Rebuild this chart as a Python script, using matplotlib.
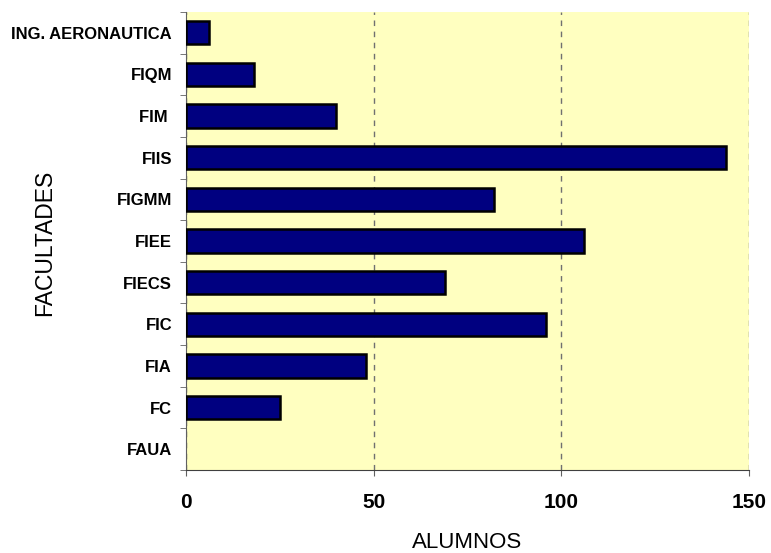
import matplotlib.pyplot as plt
import numpy as np

plt.rcParams['font.family'] = ['Liberation Sans', 'DejaVu Sans']

# Faculties, bottom to top, and number of students
facultades = ["FAUA", "FC", "FIA", "FIC", "FIECS", "FIEE", "FIGMM", "FIIS", "FIM ", "FIQM",
              "ING. AERONAUTICA"]
alumnos = [0, 25, 48, 96, 69, 106, 82, 144, 40, 18, 6]
xticks = [0, 50, 100, 150]

W, H = 771, 553
fig = plt.figure(figsize=(W / 100, H / 100), dpi=100)
ax = fig.add_axes([186 / W, 1 - 470 / H, (749 - 186) / W, (470 - 12) / H])
ax.set_facecolor('#FFFFC0')

pos = np.arange(len(facultades))
# no outline for empty bars
lw = [1.8 if v > 0 else 0 for v in alumnos]
ax.barh(pos, alumnos, height=0.56, color='#000080', edgecolor='black', linewidth=lw, zorder=3)

ax.set_xlim(0, 150)
ax.set_ylim(-0.5, len(facultades) - 0.5)

# Dashed vertical gridlines
ax.set_xticks(xticks)
ax.set_xticklabels([str(v) for v in xticks], fontsize=15, fontweight='bold')
ax.xaxis.grid(True, linestyle=(0, (4, 4)), color='#707070', linewidth=1.0, zorder=1)
ax.set_axisbelow(True)

ax.set_yticks(pos)
ax.set_yticklabels(facultades, fontsize=12, fontweight='bold')
ax.tick_params(axis='y', which='major', length=0, pad=10)
ax.set_yticks(np.arange(len(facultades) + 1) - 0.5, minor=True)
ax.tick_params(axis='y', which='minor', length=4, color='#606060', direction='out')
ax.tick_params(axis='x', length=4.3, color='#606060', direction='out', pad=12)

for s in ['top', 'right']:
    ax.spines[s].set_visible(False)
ax.spines['left'].set_color('#606060')
ax.spines['bottom'].set_color('#404040')

fig.text(467 / W, 1 - 543 / H, "ALUMNOS", fontsize=16, ha='center', va='center')
fig.text(45 / W, 1 - 243 / H, "FACULTADES", fontsize=16.5, ha='center', va='center',
         rotation=90)

fig.savefig("out.png", dpi=100)
